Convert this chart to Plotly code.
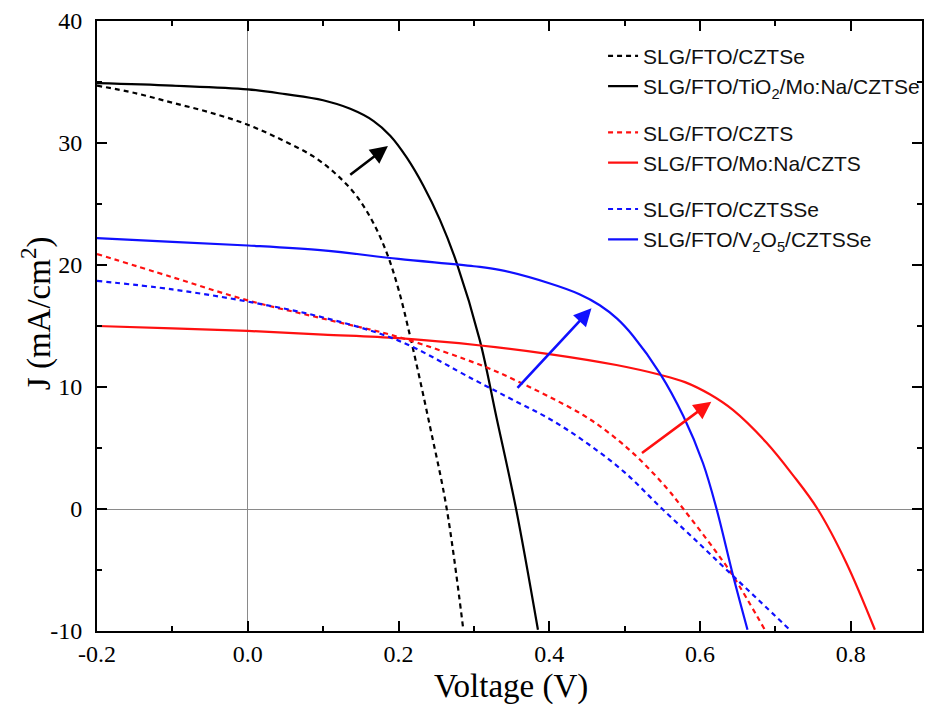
import plotly.graph_objects as go

# ---------------- data ----------------
v_czt_se = [-0.2, -0.15, -0.1, -0.05, 0.0, 0.047, 0.087, 0.118, 0.145, 0.167, 0.185, 0.2, 0.216, 0.242, 0.264, 0.286]
j_czt_se = [34.7, 34.1, 33.3, 32.5, 31.5, 30.2, 28.9, 27.4, 25.6, 23.4, 20.9, 18.0, 14.0, 6.7, 0.0, -9.9]

v_tio2 = [-0.2, -0.1, 0.0, 0.05, 0.1, 0.136, 0.167, 0.189, 0.211, 0.233, 0.255, 0.277, 0.308, 0.33, 0.356, 0.385]
j_tio2 = [34.9, 34.7, 34.4, 34.0, 33.5, 32.8, 31.8, 30.6, 28.8, 26.5, 23.7, 20.2, 13.8, 7.5, 0.0, -9.9]

v_czts = [-0.2, -0.1, 0.0, 0.1, 0.2, 0.313, 0.357, 0.4, 0.445, 0.48, 0.516, 0.556, 0.578, 0.62, 0.644, 0.686]
j_czts = [20.9, 19.0, 17.1, 15.6, 14.1, 11.7, 10.5, 9.2, 7.7, 6.2, 4.3, 1.7, 0.0, -3.4, -5.5, -9.9]

v_mona = [-0.2, -0.1, 0.0, 0.1, 0.2, 0.309, 0.4, 0.489, 0.547, 0.58, 0.613, 0.644, 0.688, 0.723, 0.756, 0.794, 0.832]
j_mona = [15.0, 14.8, 14.6, 14.3, 14.0, 13.4, 12.7, 11.8, 11.0, 10.4, 9.4, 8.1, 5.45, 2.8, 0.0, -4.4, -9.9]

v_cztsse = [-0.2, -0.1, 0.0, 0.1, 0.2, 0.3, 0.35, 0.4, 0.45, 0.5, 0.55, 0.6, 0.644, 0.68, 0.719]
j_cztsse = [18.7, 18.0, 17.0, 15.7, 13.8, 10.6, 9.0, 7.4, 5.4, 3.0, 0.0, -2.9, -5.5, -7.6, -9.9]

v_v2o5 = [-0.2, -0.1, 0.0, 0.1, 0.2, 0.3, 0.334, 0.4, 0.44, 0.467, 0.49, 0.511, 0.547, 0.578, 0.604, 0.622, 0.644, 0.663]
j_v2o5 = [22.2, 21.9, 21.6, 21.2, 20.5, 19.9, 19.6, 18.5, 17.6, 16.7, 15.6, 14.2, 11.1, 7.6, 3.75, 0.0, -5.5, -9.9]

series_names = [
    "SLG/FTO/CZTSe",
    "SLG/FTO/TiO<sub>2</sub>/Mo:Na/CZTSe",
    "SLG/FTO/CZTS",
    "SLG/FTO/Mo:Na/CZTS",
    "SLG/FTO/CZTSSe",
    "SLG/FTO/V<sub>2</sub>O<sub>5</sub>/CZTSSe",
]

x_title = "Voltage (V)"
y_title = "J (mA/cm<sup>2</sup>)"

# arrows: (tail voltage, tail J, head voltage, head J)
arrow_black = [0.134, 27.3, 0.186, 29.75]
arrow_blue = [0.356, 9.8, 0.456, 16.45]
arrow_red = [0.521, 4.5, 0.615, 8.8]

x_tick_vals = [-0.2, 0.0, 0.2, 0.4, 0.6, 0.8]
x_tick_text = ["-0.2", "0.0", "0.2", "0.4", "0.6", "0.8"]
y_tick_vals = [-10, 0, 10, 20, 30, 40]
y_tick_text = ["-10", "0", "10", "20", "30", "40"]

# ---------------- figure ----------------
BLACK = "#000000"
RED = "#ff1010"
BLUE = "#1010ff"
DASH = "5px,4px"

series = [
    (v_czt_se, j_czt_se, series_names[0], BLACK, DASH, "g1"),
    (v_tio2, j_tio2, series_names[1], BLACK, "solid", "g1"),
    (v_czts, j_czts, series_names[2], RED, DASH, "g2"),
    (v_mona, j_mona, series_names[3], RED, "solid", "g2"),
    (v_cztsse, j_cztsse, series_names[4], BLUE, DASH, "g3"),
    (v_v2o5, j_v2o5, series_names[5], BLUE, "solid", "g3"),
]

fig = go.Figure()
for xs, ys, name, color, dash, grp in series:
    fig.add_trace(go.Scatter(
        x=xs, y=ys, name=name, mode="lines", legendgroup=grp,
        line=dict(color=color, width=2.2, dash=dash, shape="spline", smoothing=1.0),
    ))

for arr, color in [(arrow_black, BLACK), (arrow_blue, BLUE), (arrow_red, RED)]:
    fig.add_annotation(
        x=arr[2], y=arr[3], ax=arr[0], ay=arr[1],
        xref="x", yref="y", axref="x", ayref="y",
        text="", showarrow=True, arrowhead=2, arrowsize=1.35,
        arrowwidth=2.6, arrowcolor=color, standoff=0,
    )

tick_font = dict(family="Liberation Serif, Times New Roman, serif", size=24, color="black")
title_font = dict(family="Liberation Serif, Times New Roman, serif", size=33, color="black")

common_axis = dict(
    showline=True, linecolor="black", linewidth=2, mirror="allticks",
    ticks="inside", ticklen=10, tickwidth=2, tickcolor="black",
    showgrid=False, zeroline=True, zerolinecolor="#8a8a8a", zerolinewidth=1.2,
    tickfont=tick_font, tickmode="array", automargin=False,
)

fig.update_xaxes(
    **common_axis, range=[-0.2, 0.8945], tickvals=x_tick_vals, ticktext=x_tick_text,
    minor=dict(tickmode="linear", tick0=-0.2, dtick=0.1, ticks="inside", ticklen=5, tickwidth=2, tickcolor="black"),
    ticklabelstandoff=0,
)
fig.update_yaxes(
    **common_axis, range=[-10, 40], tickvals=y_tick_vals, ticktext=y_tick_text,
    minor=dict(tickmode="linear", tick0=-10, dtick=5, ticks="inside", ticklen=5, tickwidth=2, tickcolor="black"),
    ticklabelstandoff=8,
)

# axis titles placed as text annotations
fig.add_annotation(
    text=x_title, xref="paper", yref="paper", x=0.502, y=-0.0918,
    xanchor="center", yanchor="middle", showarrow=False, font=title_font,
)
fig.add_annotation(
    text=y_title, xref="paper", yref="paper", x=-0.074, y=0.521,
    xanchor="center", yanchor="middle", showarrow=False, font=title_font, textangle=-90,
)

fig.update_layout(
    width=925, height=704,
    margin=dict(l=97, r=3, t=21, b=73, autoexpand=False),
    paper_bgcolor="white", plot_bgcolor="white",
    showlegend=True,
    legend=dict(
        x=0.6134, y=0.976, xanchor="left", yanchor="top",
        font=dict(family="Liberation Sans, Arial, sans-serif", size=21, color="#111111"),
        traceorder="grouped", tracegroupgap=16, bgcolor="rgba(0,0,0,0)",
        borderwidth=0,
    ),
)

fig.write_html(
    "out.html",
    config={"displayModeBar": False},
    post_script="document.body.style.margin='0px';",
)
